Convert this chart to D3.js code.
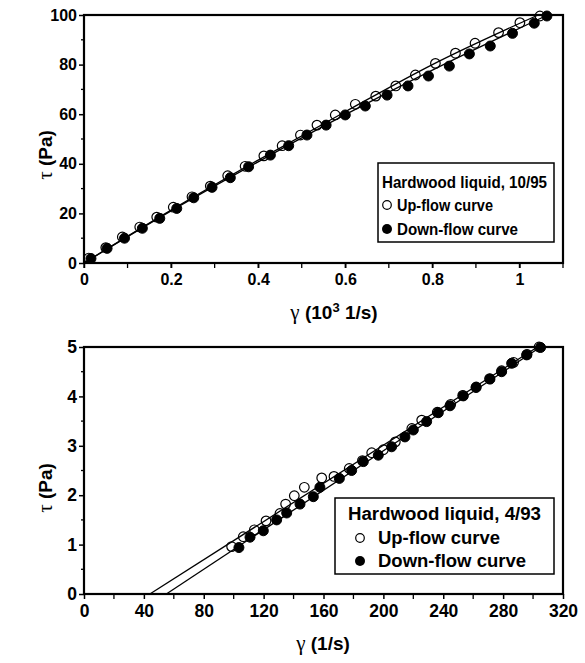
<!DOCTYPE html>
<html>
<head>
<meta charset="utf-8">
<script src="https://cdn.jsdelivr.net/npm/d3@7"></script>
<style>
  body { margin: 0; background: #fff; }
  text { font-family: "Liberation Sans", Arial, sans-serif; font-weight: bold; fill: #000; }
  .sym { font-family: "Liberation Serif", "DejaVu Serif", serif; font-weight: normal; }
</style>
</head>
<body>
<div></div>
<script>
var width = 585;
var height = 663;

// top panel: Hardwood liquid, 10/95  (gamma in 10^3 1/s, tau in Pa)
var upTopGamma = [0.011, 0.05, 0.088, 0.128, 0.167, 0.205, 0.248, 0.290, 0.330, 0.370, 0.413, 0.455, 0.497, 0.535, 0.577, 0.623, 0.670, 0.716, 0.761, 0.807, 0.853, 0.898, 0.952, 1.001, 1.047];
var upTopTau   = [2, 6.2, 10.5, 14.5, 18.5, 22.5, 26.7, 31, 35.2, 39, 43.2, 47.3, 51.6, 55.6, 59.7, 64, 67.3, 71.4, 75.8, 80.5, 84.6, 88.6, 92.9, 96.9, 99.6];
var downTopGamma = [0.016, 0.053, 0.093, 0.134, 0.174, 0.213, 0.252, 0.294, 0.336, 0.378, 0.428, 0.470, 0.512, 0.556, 0.600, 0.646, 0.696, 0.744, 0.791, 0.839, 0.885, 0.933, 0.984, 1.034, 1.063];
var downTopTau   = [1.8, 5.9, 10, 14, 18, 22, 26.3, 30.5, 34.4, 38.8, 43.5, 47.3, 51.6, 55.6, 59.7, 63.3, 67.7, 71.4, 75.4, 79.4, 84.3, 87.5, 92.6, 96.7, 99.6];
// fitted curves
var upTopFitGamma = [0, 0.2, 0.4, 0.6, 0.8, 1.043];
var upTopFitTau   = [0, 21.3, 41.5, 61, 80, 100];
var downTopFitGamma = [0, 0.2, 0.4, 0.6, 0.8, 1.065];
var downTopFitTau   = [0, 21, 40.8, 59.8, 77.8, 100];

// bottom panel: Hardwood liquid, 4/93  (gamma in 1/s, tau in Pa)
var upBotGamma = [98.6, 106.4, 113.8, 121.6, 130.9, 134.7, 140.5, 147.2, 158.8, 167, 177.2, 186, 192.2, 200, 208, 219, 225.6, 236, 245, 253, 262, 271, 279, 287, 296, 304];
var upBotTau   = [0.96, 1.16, 1.30, 1.48, 1.63, 1.82, 1.99, 2.16, 2.35, 2.38, 2.54, 2.70, 2.86, 2.92, 3.08, 3.35, 3.52, 3.68, 3.84, 4.02, 4.19, 4.36, 4.52, 4.69, 4.85, 5.0];
var downBotGamma = [103.5, 110.9, 119.8, 128.7, 135.4, 144.3, 153.2, 157.6, 170.6, 178.8, 186.6, 196.6, 205.5, 214.4, 220, 228.9, 236.7, 244.5, 253.4, 261.9, 271.2, 279, 285.7, 295.7, 305];
var downBotTau   = [0.94, 1.15, 1.28, 1.50, 1.64, 1.82, 1.97, 2.16, 2.34, 2.50, 2.68, 2.81, 2.98, 3.18, 3.32, 3.49, 3.67, 3.81, 4.01, 4.18, 4.35, 4.50, 4.67, 4.84, 4.99];
var upBotFitGamma = [44, 303];
var upBotFitTau   = [0, 5];
var downBotFitGamma = [55, 305];
var downBotFitTau   = [0, 5];

var topXTicks = [0, 0.2, 0.4, 0.6, 0.8, 1];
var topYTicks = [0, 20, 40, 60, 80, 100];
var botXTicks = [0, 40, 80, 120, 160, 200, 240, 280, 320];
var botYTicks = [0, 1, 2, 3, 4, 5];

function zip(a, b) { return a.map(function (v, i) { return [v, b[i]]; }); }

var svg = d3.select('div')
    .append('svg').attr('width', width).attr('height', height);

function panel(opt) {
    var x = d3.scaleLinear().domain(opt.xDomain).range([84, 563]);
    var y = d3.scaleLinear().domain(opt.yDomain).range([opt.bottom, opt.top]);
    var g = svg.append('g');

    // minor ticks
    g.append('g').selectAll('line').data(opt.xMinor).enter().append('line')
        .attr('x1', function (d) { return x(d); }).attr('x2', function (d) { return x(d); })
        .attr('y1', opt.bottom).attr('y2', opt.bottom + 5)
        .attr('stroke', '#000').attr('stroke-width', 1.3);
    g.append('g').selectAll('line').data(opt.yMinor).enter().append('line')
        .attr('y1', function (d) { return y(d); }).attr('y2', function (d) { return y(d); })
        .attr('x1', 84).attr('x2', 81)
        .attr('stroke', '#000').attr('stroke-width', 1.3);

    var xAxis = g.append('g').attr('transform', 'translate(0,' + opt.bottom + ')')
        .call(d3.axisBottom(x).tickValues(opt.xTicks).tickSize(5).tickPadding(6).tickFormat(opt.xFmt));
    var yAxis = g.append('g').attr('transform', 'translate(84,0)')
        .call(d3.axisLeft(y).tickValues(opt.yTicks).tickSize(5).tickPadding(2).tickFormat(d3.format('d')));
    [xAxis, yAxis].forEach(function (a) {
        a.attr('font-family', null).attr('font-size', null);
        a.select('.domain').remove();
        a.selectAll('line').attr('stroke-width', 1.5);
        a.selectAll('text').style('font-size', opt.tickFont);
    });

    // frame
    g.append('rect').attr('x', 84).attr('y', opt.top)
        .attr('width', 563 - 84).attr('height', opt.bottom - opt.top)
        .attr('fill', 'none').attr('stroke', '#000').attr('stroke-width', 2.2);

    var line = d3.line().x(function (d) { return x(d[0]); }).y(function (d) { return y(d[1]); })
        .curve(d3.curveMonotoneX);
    [opt.upFit, opt.downFit].forEach(function (f) {
        g.append('path').datum(f).attr('d', line)
            .attr('fill', 'none').attr('stroke', '#000').attr('stroke-width', 1.3);
    });

    g.append('g').selectAll('circle').data(opt.down).enter().append('circle')
        .attr('cx', function (d) { return x(d[0]); }).attr('cy', function (d) { return y(d[1]); })
        .attr('r', 5).attr('fill', '#000').attr('stroke', '#000').attr('stroke-width', 1);
    g.append('g').selectAll('circle').data(opt.up).enter().append('circle')
        .attr('cx', function (d) { return x(d[0]); }).attr('cy', function (d) { return y(d[1]); })
        .attr('r', 4.8).attr('fill', 'none').attr('stroke', '#000').attr('stroke-width', 1.2);

    // legend
    var L = opt.legend;
    g.append('rect').attr('x', L.x).attr('y', L.y).attr('width', L.w).attr('height', L.h)
        .attr('fill', '#fff').attr('stroke', '#000').attr('stroke-width', 1.5);
    g.append('text').attr('x', L.tx).attr('y', L.y + L.dy[0]).style('font-size', L.font)
        .attr('textLength', L.len[0]).attr('lengthAdjust', 'spacingAndGlyphs').text(L.title);
    g.append('circle').attr('cx', L.mx).attr('cy', L.y + L.dy[1] - 6).attr('r', 4.3)
        .attr('fill', '#fff').attr('stroke', '#000').attr('stroke-width', 1.2);
    g.append('text').attr('x', L.lx).attr('y', L.y + L.dy[1]).style('font-size', L.font)
        .attr('textLength', L.len[1]).attr('lengthAdjust', 'spacingAndGlyphs').text('Up-flow curve');
    g.append('circle').attr('cx', L.mx).attr('cy', L.y + L.dy[2] - 6).attr('r', 5).attr('fill', '#000');
    g.append('text').attr('x', L.lx).attr('y', L.y + L.dy[2]).style('font-size', L.font)
        .attr('textLength', L.len[2]).attr('lengthAdjust', 'spacingAndGlyphs').text('Down-flow curve');

    // axis titles
    var xt = g.append('text').attr('x', opt.xTitleX).attr('y', opt.bottom + 56)
        .attr('text-anchor', 'middle').style('font-size', '19px');
    xt.append('tspan').attr('class', 'sym').style('font-size', '21px').text('γ');
    opt.xTitle(xt);

    var yt = g.append('text')
        .attr('transform', 'translate(52,' + opt.yTitleY + ') rotate(-90)')
        .attr('text-anchor', 'middle').style('font-size', '19px');
    yt.append('tspan').attr('class', 'sym').style('font-size', '21px').text('τ');
    yt.append('tspan').text(' (Pa)');
}

panel({
    xDomain: [0, 1.1], yDomain: [0, 100], top: 15, bottom: 263,
    xTicks: topXTicks, yTicks: topYTicks, tickFont: '16px',
    xMinor: d3.range(0, 1.11, 0.1), yMinor: d3.range(10, 100, 20),
    xFmt: function (d) { return d === 0 || d === 1 ? d3.format('d')(d) : d3.format('.1f')(d); },
    up: zip(upTopGamma, upTopTau), down: zip(downTopGamma, downTopTau),
    upFit: zip(upTopFitGamma, upTopFitTau), downFit: zip(downTopFitGamma, downTopFitTau),
    legend: { x: 378, y: 163, w: 176, h: 79, tx: 382, mx: 387, lx: 397, font: '16.5px',
              dy: [25, 48, 72], len: [165, 96, 121], title: 'Hardwood liquid, 10/95' },
    xTitle: function (t) {
        t.append('tspan').text(' (10');
        t.append('tspan').attr('dy', -7).style('font-size', '13px').text('3');
        t.append('tspan').attr('dy', 7).text(' 1/s)');
    },
    xTitleX: 334, yTitleY: 155
});

panel({
    xDomain: [0, 320], yDomain: [0, 5], top: 347, bottom: 594,
    xTicks: botXTicks, yTicks: botYTicks, tickFont: '17.5px',
    xMinor: d3.range(20, 320, 40), yMinor: d3.range(0.5, 5, 1),
    xFmt: d3.format('d'),
    up: zip(upBotGamma, upBotTau), down: zip(downBotGamma, downBotTau),
    upFit: zip(upBotFitGamma, upBotFitTau), downFit: zip(downBotFitGamma, downBotFitTau),
    legend: { x: 335, y: 498, w: 219, h: 76, tx: 348, mx: 360, lx: 378, font: '18px',
              dy: [22, 46, 69], len: [193, 122, 148], title: 'Hardwood liquid, 4/93' },
    xTitle: function (t) { t.append('tspan').text(' (1/s)'); },
    xTitleX: 323, yTitleY: 488
});
</script>
</body>
</html>
